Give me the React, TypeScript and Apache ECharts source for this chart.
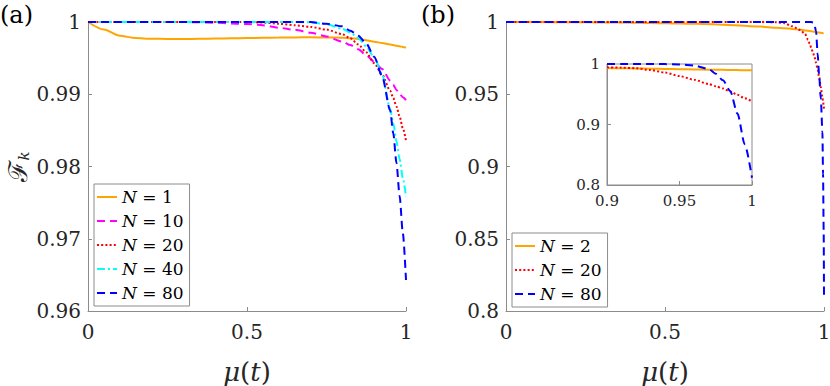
import React, { useEffect, useRef } from "react";
import * as echarts from "echarts";

// ---------- data ----------
// panel (a): common x grid
const xA = [0, 0.05, 0.1, 0.15, 0.2, 0.25, 0.3, 0.35, 0.4, 0.45, 0.5, 0.55, 0.6, 0.65, 0.7, 0.75, 0.8, 0.825, 0.85, 0.875, 0.9, 0.925, 0.95, 0.96, 0.97, 0.98, 0.99, 1.0];
const aN1 = [1.0, 0.99895, 0.9981, 0.99778, 0.99768, 0.99765, 0.99765, 0.99767, 0.9977, 0.99774, 0.99778, 0.99782, 0.99785, 0.99787, 0.99788, 0.99786, 0.99782, 0.99776, 0.99765, 0.99748, 0.99728, 0.99708, 0.99688, 0.9968, 0.99672, 0.99664, 0.99655, 0.99645];
const aN10 = [1, 1, 1, 1, 1, 1, 1, 0.99995, 0.9999, 0.9998, 0.99972, 0.99955, 0.9992, 0.99892, 0.99852, 0.998, 0.99728, 0.9968, 0.99622, 0.9954, 0.9945, 0.9935, 0.9919, 0.9913, 0.9906, 0.99, 0.9896, 0.9892];
const aN20 = [1, 1, 1, 1, 1, 1, 1, 1, 1, 1, 1, 0.99993, 0.99975, 0.99955, 0.99932, 0.99895, 0.9983, 0.99775, 0.9969, 0.9958, 0.9943, 0.9927, 0.9905, 0.9895, 0.9883, 0.9869, 0.9853, 0.9836];
const aN40 = [1, 1, 1, 1, 1, 1, 1, 1, 1, 1, 1, 1, 1, 1, 0.99995, 0.9997, 0.99905, 0.99855, 0.9978, 0.9966, 0.9951, 0.9928, 0.988, 0.986, 0.9835, 0.981, 0.9784, 0.9758];
const aN80 = [1, 1, 1, 1, 1, 1, 1, 1, 1, 1, 1, 1, 1, 1, 1, 0.99975, 0.9994, 0.9988, 0.9981, 0.997, 0.9952, 0.9925, 0.9878, 0.9846, 0.9805, 0.9759, 0.9708, 0.9643];

// panel (b)
const xB = [0, 0.1, 0.2, 0.3, 0.4, 0.5, 0.6, 0.7, 0.8, 0.85, 0.875, 0.9, 0.925, 0.94, 0.95, 0.955, 0.96, 0.965, 0.97, 0.975, 0.98, 0.985, 0.99, 0.995, 0.997, 0.999, 1.0];
const bN2 = [1, 0.99995, 0.9998, 0.9997, 0.9995, 0.9992, 0.9988, 0.998, 0.9968, 0.9961, 0.9957, 0.9952, 0.9946, 0.9942, 0.9939, 0.9937, 0.9936, 0.9934, 0.9932, 0.993, 0.9929, 0.9927, 0.9925, 0.9924, 0.9923, 0.9922, 0.9922];
const bN20 = [1, 1, 1, 1, 1, 1, 1, 1, 1, 0.99985, 0.9992, 0.997, 0.9945, 0.9918, 0.9878, 0.985, 0.982, 0.979, 0.976, 0.9718, 0.967, 0.9615, 0.955, 0.948, 0.945, 0.942, 0.94];
const bN80 = [1, 1, 1, 1, 1, 1, 1, 1, 1, 1, 1, 1, 1, 1, 1, 1, 1, 0.9997, 0.998, 0.9935, 0.978, 0.962, 0.947, 0.924, 0.895, 0.855, 0.81];

// inset of panel (b)
const xI = [0.9, 0.91, 0.92, 0.93, 0.94, 0.95, 0.96, 0.97, 0.975, 0.98, 0.985, 0.99, 0.995, 1.0];
const iN2 = [0.9934, 0.993, 0.9926, 0.9922, 0.9918, 0.9915, 0.9911, 0.9907, 0.9905, 0.9903, 0.9901, 0.9899, 0.9897, 0.9895];
const iN20 = [0.9945, 0.994, 0.993, 0.99, 0.9858, 0.98, 0.974, 0.967, 0.9633, 0.9595, 0.9545, 0.949, 0.9435, 0.938];
const iN80 = [1, 1, 1, 1, 0.9998, 0.9993, 0.9975, 0.992, 0.984, 0.973, 0.955, 0.918, 0.867, 0.812];

const namesA = ["N = 1", "N = 10", "N = 20", "N = 40", "N = 80"];
const namesB = ["N = 2", "N = 20", "N = 80"];
const panelLabels = ["(a)", "(b)"];

// ---------- styles ----------
const SERIF = "'DejaVu Serif', serif";
const GREY = "#8c8c8c";
const TXT = "#262626";
const ORANGE = "#FFA500";
const MAGENTA = "#FF00FF";
const RED = "#FF0000";
const CYAN = "#00FFFF";
const BLUE = "#0000FF";
const DASH = [8, 5];
const DOT = [2, 2.2];
const DASHDOT = [8, 3, 2, 3];

const pairs = (xs: number[], ys: number[]) => xs.map((x, i) => [x, ys[i]]);
const fmt = (v: number) => String(+v.toFixed(2));

const mkSeries = (name: string, xs: number[], ys: number[], color: string, type: any, gi: number) => ({
  name,
  type: "line",
  xAxisIndex: gi,
  yAxisIndex: gi,
  data: pairs(xs, ys),
  symbol: "none",
  smooth: 0.25,
  smoothMonotone: "x",
  color,
  lineStyle: { color, width: 2, type, cap: "butt" },
  clip: true,
});

const axisCommon = (fontSize: number, margin: number) => ({
  axisLine: { show: true, onZero: false, lineStyle: { color: GREY, width: 1 } },
  axisTick: { show: true, inside: true, length: 4, lineStyle: { color: GREY } },
  axisLabel: { fontSize, fontFamily: SERIF, color: TXT, margin, formatter: fmt, showMinLabel: true, showMaxLabel: true },
  splitLine: { show: false },
});

const muName = {
  name: "{i|μ}{n|(}{i|t}{n|)}",
  nameLocation: "middle",
  nameGap: 48,
  nameTextStyle: {
    rich: {
      i: { fontFamily: SERIF, fontStyle: "italic", fontSize: 26, color: TXT },
      n: { fontFamily: SERIF, fontSize: 26, color: TXT },
    },
  },
};

const legendCommon = {
  orient: "vertical",
  padding: [3, 6, 3, 2],
  itemWidth: 20,
  itemHeight: 1,
  itemGap: 4,
  borderColor: GREY,
  borderWidth: 1,
  backgroundColor: "#fff",
  borderRadius: 0,
  itemStyle: { color: "rgba(0,0,0,0)", borderWidth: 0, opacity: 0 },
  textStyle: {
    fontFamily: SERIF,
    fontSize: 17,
    lineHeight: 20,
    color: "#000",
    rich: {
      i: { fontFamily: SERIF, fontStyle: "italic", fontSize: 17, lineHeight: 20, color: "#000" },
      n: { fontFamily: SERIF, fontSize: 17, lineHeight: 20, color: "#000" },
    },
  },
  formatter: (name: string) => `{i|N}{n| = ${name.split("= ")[1]}}`,
};

export default function App() {
  const ref = useRef<HTMLDivElement>(null);
  useEffect(() => {
    if (!ref.current) return;
    const chart = echarts.init(ref.current, undefined, { renderer: "svg" });
    const option: any = {
      animation: false,
      backgroundColor: "#fff",
      title: panelLabels.map((t, i) => ({
        text: t,
        left: i === 0 ? 0 : 421,
        top: 3,
        padding: 0,
        textStyle: { fontFamily: SERIF, fontSize: 24, fontWeight: "normal", color: "#000" },
      })),
      grid: [
        { left: 88, top: 22, width: 318, height: 289, outerBoundsMode: "none" },
        { left: 506, top: 22, width: 318, height: 289, outerBoundsMode: "none" },
        { left: 607, top: 64, width: 145, height: 121, show: true, borderColor: GREY, borderWidth: 1, backgroundColor: "#fff", outerBoundsMode: "none", z: 5 },
      ],
      xAxis: [
        { type: "value", gridIndex: 0, min: 0, max: 1, interval: 0.5, ...axisCommon(20, 11), ...muName },
        { type: "value", gridIndex: 1, min: 0, max: 1, interval: 0.5, ...axisCommon(20, 11), ...muName },
        { type: "value", gridIndex: 2, min: 0.9, max: 1, interval: 0.05, ...axisCommon(15, 8), z: 6 },
      ],
      yAxis: [
        {
          type: "value", gridIndex: 0, min: 0.96, max: 1, interval: 0.01, ...axisCommon(20, 7),
          name: "{f|ℱ}{k|k}",
          nameLocation: "middle",
          nameRotate: 90,
          nameGap: 57,
          nameTextStyle: {
            rich: {
              f: { fontFamily: SERIF, fontSize: 26, color: TXT, verticalAlign: "bottom" },
              k: { fontFamily: SERIF, fontStyle: "italic", fontSize: 15, color: TXT, verticalAlign: "bottom" },
            },
          },
        },
        { type: "value", gridIndex: 1, min: 0.8, max: 1, interval: 0.05, ...axisCommon(20, 7) },
        { type: "value", gridIndex: 2, min: 0.8, max: 1, interval: 0.1, ...axisCommon(15, 7), z: 6 },
      ],
      legend: [
        { ...legendCommon, left: 94, top: 184, data: namesA },
        { ...legendCommon, left: 512, top: 233, data: namesB },
      ],
      series: [
        mkSeries(namesA[0], xA, aN1, ORANGE, "solid", 0),
        mkSeries(namesA[1], xA, aN10, MAGENTA, DASH, 0),
        mkSeries(namesA[2], xA, aN20, RED, DOT, 0),
        mkSeries(namesA[3], xA, aN40, CYAN, DASHDOT, 0),
        mkSeries(namesA[4], xA, aN80, BLUE, DASH, 0),
        mkSeries(namesB[0], xB, bN2, ORANGE, "solid", 1),
        mkSeries(namesB[1], xB, bN20, RED, DOT, 1),
        mkSeries(namesB[2], xB, bN80, BLUE, DASH, 1),
        { ...mkSeries("inset N = 2", xI, iN2, ORANGE, "solid", 2), z: 7 },
        { ...mkSeries("inset N = 20", xI, iN20, RED, DOT, 2), z: 7 },
        { ...mkSeries("inset N = 80", xI, iN80, BLUE, DASH, 2), z: 7 },
      ],
    };
    chart.setOption(option);
    return () => chart.dispose();
  }, []);
  return <div ref={ref} style={{ position: "fixed", left: 0, top: 0, width: 830, height: 386 }} />;
}
